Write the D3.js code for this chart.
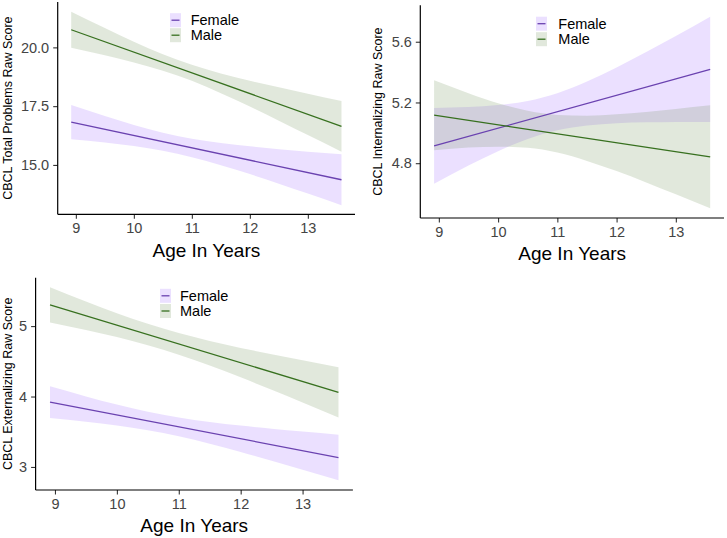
<!DOCTYPE html>
<html>
<head>
<meta charset="utf-8">
<script src="https://cdn.jsdelivr.net/npm/d3@7"></script>
<style>
  html, body { margin: 0; padding: 0; background: #ffffff; }
  svg { display: block; font-family: "Liberation Sans", Arial, sans-serif; }
</style>
</head>
<body>
<svg id="chart" width="727" height="538"></svg>
<script>
// ---------- data ----------
const groups = ["Female", "Male"];
const fitAges = [8.92, 13.58];
const bandAges = [8.92, 9.5, 10, 10.5, 11, 11.5, 12, 12.5, 13, 13.58];
const xTicks = [9, 10, 11, 12, 13];
const xDomain = [8.687, 13.813];

// Panel 1: CBCL Total Problems
const totalFemaleFit  = [16.82, 14.37];
const totalFemaleLow  = [16.09, 15.95, 15.80, 15.60, 15.33, 14.99, 14.61, 14.20, 13.78, 13.29];
const totalFemaleHigh = [17.55, 17.08, 16.70, 16.37, 16.11, 15.93, 15.79, 15.67, 15.56, 15.45];
const totalMaleFit    = [20.75, 16.64];
const totalMaleLow    = [19.98, 19.66, 19.36, 19.01, 18.58, 18.05, 17.48, 16.88, 16.27, 15.56];
const totalMaleHigh   = [21.52, 20.82, 20.24, 19.71, 19.26, 18.89, 18.58, 18.30, 18.03, 17.72];
const totalTicks = [15.0, 17.5, 20.0];
const totalTickLabels = ["15.0", "17.5", "20.0"];

// Panel 2: CBCL Internalizing
const intFemaleFit  = [4.914, 5.418];
const intFemaleLow  = [4.664, 4.784, 4.879, 4.960, 5.017, 5.048, 5.063, 5.069, 5.072, 5.072];
const intFemaleHigh = [5.164, 5.170, 5.183, 5.210, 5.261, 5.338, 5.431, 5.533, 5.638, 5.764];
const intMaleFit    = [5.116, 4.842];
const intMaleLow    = [4.886, 4.903, 4.909, 4.901, 4.870, 4.815, 4.748, 4.673, 4.595, 4.503];
const intMaleHigh   = [5.346, 5.261, 5.195, 5.145, 5.118, 5.113, 5.122, 5.137, 5.157, 5.181];
const intTicks = [4.8, 5.2, 5.6];
const intTickLabels = ["4.8", "5.2", "5.6"];

// Panel 3: CBCL Externalizing
const extFemaleFit  = [3.92, 3.134];
const extFemaleLow  = [3.695, 3.643, 3.589, 3.521, 3.435, 3.331, 3.213, 3.089, 2.962, 2.810];
const extFemaleHigh = [4.145, 4.002, 3.887, 3.785, 3.703, 3.639, 3.587, 3.543, 3.502, 3.458];
const extMaleFit    = [5.30, 4.06];
const extMaleLow    = [5.050, 4.944, 4.844, 4.728, 4.593, 4.439, 4.272, 4.096, 3.916, 3.703];
const extMaleHigh   = [5.550, 5.348, 5.182, 5.032, 4.901, 4.789, 4.690, 4.600, 4.514, 4.417];
const extTicks = [3, 4, 5];
const extTickLabels = ["3", "4", "5"];

// ---------- styles ----------
const lineColor = { Female: "#6a42b0", Male: "#37701f" };
const fillColor = { Female: "#9966ff", Male: "#6b8e4e" };
const fillOpacity = 0.2;

const panels = [
  {
    title: "CBCL Total Problems Raw Score",
    yDomain: [12.9, 21.93], ticks: totalTicks, tickLabels: totalTickLabels,
    female: { fit: totalFemaleFit, low: totalFemaleLow, high: totalFemaleHigh },
    male:   { fit: totalMaleFit,   low: totalMaleLow,   high: totalMaleHigh },
    left: 57.7, right: 355, top: 2, bottom: 214.3,
    yTitleX: 7.5, xTitleY: 257, legKeyX: 170, legTextX: 190.7, legY: 20.2, legStep: 15
  },
  {
    title: "CBCL Internalizing Raw Score",
    yDomain: [4.439, 5.84], ticks: intTicks, tickLabels: intTickLabels,
    female: { fit: intFemaleFit, low: intFemaleLow, high: intFemaleHigh },
    male:   { fit: intMaleFit,   low: intMaleLow,   high: intMaleHigh },
    left: 420.3, right: 724, top: 5.3, bottom: 218,
    yTitleX: 378.3, xTitleY: 260, legKeyX: 536, legTextX: 558.3, legY: 23.7, legStep: 15.5
  },
  {
    title: "CBCL Externalizing Raw Score",
    yDomain: [2.673, 5.687], ticks: extTicks, tickLabels: extTickLabels,
    female: { fit: extFemaleFit, low: extFemaleLow, high: extFemaleHigh },
    male:   { fit: extMaleFit,   low: extMaleLow,   high: extMaleHigh },
    left: 35.6, right: 352.9, top: 277.7, bottom: 490,
    yTitleX: 7.5, xTitleY: 531.5, legKeyX: 160, legTextX: 180, legY: 295.8, legStep: 15.2
  }
];

const svg = d3.select("#chart");

panels.forEach(p => {
  const x = d3.scaleLinear().domain(xDomain).range([p.left, p.right]);
  const y = d3.scaleLinear().domain(p.yDomain).range([p.bottom, p.top]);
  const g = svg.append("g");

  const series = [["Female", p.female], ["Male", p.male]];

  // ribbons
  series.forEach(([name, s]) => {
    const area = d3.area()
      .x((d, i) => x(bandAges[i]))
      .y0((d, i) => y(s.low[i]))
      .y1((d, i) => y(s.high[i]))
      .curve(d3.curveMonotoneX);
    g.append("path")
      .datum(bandAges)
      .attr("d", area)
      .attr("fill", fillColor[name])
      .attr("fill-opacity", fillOpacity);
  });

  // fit lines
  series.forEach(([name, s]) => {
    const line = d3.line()
      .x((d, i) => x(fitAges[i]))
      .y((d, i) => y(s.fit[i]));
    g.append("path")
      .datum(fitAges)
      .attr("d", line)
      .attr("fill", "none")
      .attr("stroke", lineColor[name])
      .attr("stroke-width", 1.3);
  });

  // axes
  const xAxis = d3.axisBottom(x).tickValues(xTicks).tickSize(4.5).tickPadding(4).tickFormat(d3.format("d"));
  const yAxis = d3.axisLeft(y).tickValues(p.ticks).tickSize(4.5).tickPadding(4)
    .tickFormat((d, i) => p.tickLabels[i]);

  const gx = g.append("g").attr("transform", `translate(0,${p.bottom})`).call(xAxis);
  const gy = g.append("g").attr("transform", `translate(${p.left},0)`).call(yAxis);
  [gx, gy].forEach(a => {
    a.select(".domain").remove();
    a.selectAll(".tick line").attr("stroke", "#333").attr("stroke-width", 1.1);
    a.selectAll(".tick text").attr("fill", "#444").style("font-size", "14.5px")
      .style("font-family", "'Liberation Sans', Arial, sans-serif");
  });
  // axis lines (classic theme)
  g.append("line").attr("x1", p.left).attr("x2", p.left).attr("y1", p.top).attr("y2", p.bottom)
    .attr("stroke", "#000").attr("stroke-width", 1.2);
  g.append("line").attr("x1", p.left).attr("x2", p.right).attr("y1", p.bottom).attr("y2", p.bottom)
    .attr("stroke", "#000").attr("stroke-width", 1.2);

  // axis titles
  g.append("text")
    .attr("transform", `translate(${p.yTitleX},${(p.top + p.bottom) / 2}) rotate(-90)`)
    .attr("text-anchor", "middle").attr("dominant-baseline", "central")
    .style("font-size", "12.5px").attr("fill", "#000")
    .text(p.title);
  g.append("text")
    .attr("x", (p.left + p.right) / 2).attr("y", p.xTitleY)
    .attr("text-anchor", "middle")
    .style("font-size", "19px").attr("fill", "#000")
    .text("Age In Years");

  // legend
  groups.forEach((name, i) => {
    const cy = p.legY + i * p.legStep;
    g.append("rect")
      .attr("x", p.legKeyX).attr("y", cy - 7).attr("width", 11).attr("height", 14)
      .attr("fill", fillColor[name]).attr("fill-opacity", fillOpacity);
    g.append("line")
      .attr("x1", p.legKeyX + 1.5).attr("x2", p.legKeyX + 9.5).attr("y1", cy).attr("y2", cy)
      .attr("stroke", lineColor[name]).attr("stroke-width", 1.3);
    g.append("text")
      .attr("x", p.legTextX).attr("y", cy).attr("dominant-baseline", "central")
      .style("font-size", "14.5px").attr("fill", "#000")
      .text(name);
  });
});
</script>
</body>
</html>
